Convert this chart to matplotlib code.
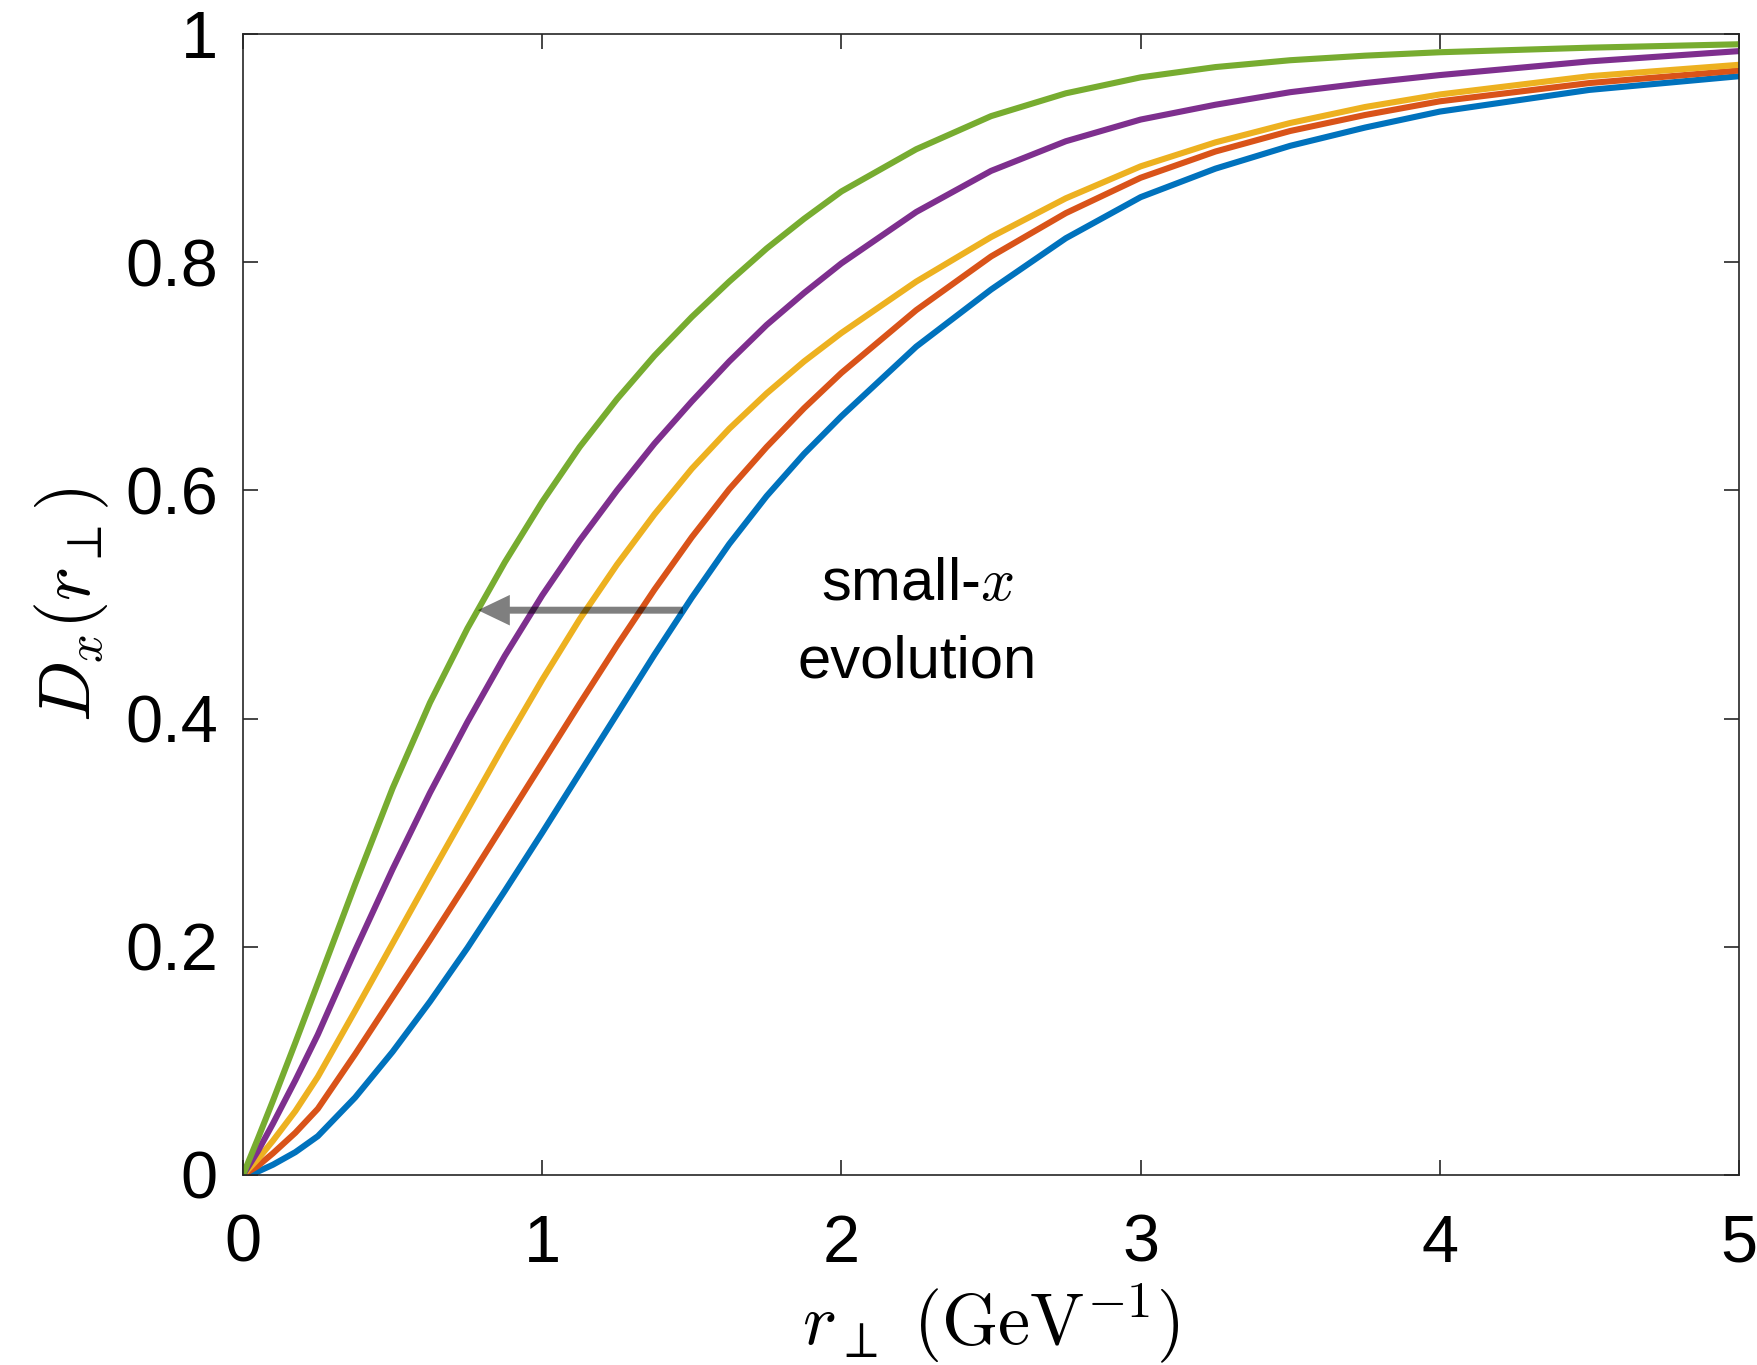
import numpy as np
import matplotlib
matplotlib.use("Agg")
import matplotlib.pyplot as plt

plt.rcParams['font.family'] = ['Liberation Sans', 'DejaVu Sans']
plt.rcParams['mathtext.fontset'] = 'cm'

# r_perp sample points (GeV^-1) and D_x(r_perp)
r = [0, 0.05, 0.1, 0.175, 0.25, 0.375, 0.5, 0.625, 0.75, 0.875, 1.0, 1.125,
     1.25, 1.375, 1.5, 1.625, 1.75, 1.875, 2.0, 2.25, 2.5, 2.75, 3.0, 3.25,
     3.5, 3.75, 4.0, 4.5, 5.0]

d_blue = [0, 0.003, 0.009, 0.020, 0.034, 0.068, 0.108, 0.152, 0.199, 0.249,
          0.300, 0.352, 0.404, 0.456, 0.506, 0.553, 0.595, 0.632, 0.665,
          0.726, 0.776, 0.821, 0.857, 0.882, 0.902, 0.918, 0.932, 0.951, 0.963]
d_red = [0, 0.008, 0.019, 0.037, 0.058, 0.106, 0.156, 0.206, 0.257, 0.309,
         0.361, 0.413, 0.464, 0.513, 0.559, 0.601, 0.638, 0.672, 0.703,
         0.758, 0.805, 0.843, 0.874, 0.897, 0.915, 0.929, 0.941, 0.957, 0.968]
d_yellow = [0, 0.014, 0.030, 0.056, 0.086, 0.144, 0.203, 0.262, 0.320, 0.378,
            0.434, 0.487, 0.535, 0.579, 0.619, 0.654, 0.685, 0.713, 0.738,
            0.783, 0.822, 0.856, 0.884, 0.905, 0.922, 0.936, 0.947, 0.963, 0.973]
d_purple = [0, 0.021, 0.045, 0.083, 0.123, 0.197, 0.268, 0.335, 0.397, 0.455,
            0.508, 0.556, 0.600, 0.641, 0.678, 0.713, 0.745, 0.773, 0.799,
            0.844, 0.880, 0.906, 0.925, 0.938, 0.949, 0.957, 0.964, 0.976, 0.985]
d_green = [0, 0.032, 0.065, 0.116, 0.168, 0.255, 0.339, 0.414, 0.479, 0.537,
           0.590, 0.638, 0.680, 0.718, 0.752, 0.783, 0.812, 0.838, 0.862,
           0.899, 0.928, 0.948, 0.962, 0.971, 0.977, 0.981, 0.984, 0.988, 0.991]

series = [d_blue, d_red, d_yellow, d_purple, d_green]
colors = [(0, 0.447, 0.741), (0.85, 0.325, 0.098), (0.929, 0.694, 0.125),
          (0.494, 0.184, 0.556), (0.466, 0.674, 0.188)]

xticks = [0, 1, 2, 3, 4, 5]
yticks = [0, 0.2, 0.4, 0.6, 0.8, 1.0]
yticklabels = ['0', '0.2', '0.4', '0.6', '0.8', '1']

# arrow: from blue curve to green curve at D ~ 0.5
arrow_y = 0.495
arrow_from = 1.47
arrow_to = 0.785

axcol = (0.15, 0.15, 0.15)

fig = plt.figure(figsize=(17.57, 13.65), dpi=100)
ax = fig.add_axes([0.1383, 0.1392, 0.8515, 0.8359])

for d, c in zip(series, colors):
    ax.plot(r, d, color=c, lw=4.4, solid_joinstyle='round')

ax.annotate('', xy=(arrow_to, arrow_y), xytext=(arrow_from, arrow_y),
            arrowprops=dict(arrowstyle='simple,head_length=2.3,head_width=2.2,tail_width=0.5',
                            mutation_scale=10, fc='black', ec='none', alpha=0.5,
                            shrinkA=0, shrinkB=0))

ax.text(2.253, 0.504, 'small-$x$', fontsize=43, ha='center', va='baseline')
ax.text(2.253, 0.436, 'evolution', fontsize=43, ha='center', va='baseline')

ax.set_xlim(0, 5)
ax.set_ylim(0, 1)
ax.set_xticks(xticks)
ax.set_yticks(yticks)
ax.set_yticklabels(yticklabels)
ax.tick_params(direction='in', length=11, width=1.2, colors=axcol,
               labelsize=48, labelcolor='black', top=True, right=True)
ax.tick_params(axis='x', pad=28)
ax.tick_params(axis='y', pad=18)
for s in ax.spines.values():
    s.set_color(axcol)
    s.set_linewidth(1.2)

ax.set_xlabel(r'$r_\perp\ (\mathrm{GeV}^{-1})$', fontsize=52, labelpad=4)
ax.set_ylabel(r'$D_x(r_\perp)$', fontsize=52, labelpad=10)

fig.savefig('out.png', dpi=100)
